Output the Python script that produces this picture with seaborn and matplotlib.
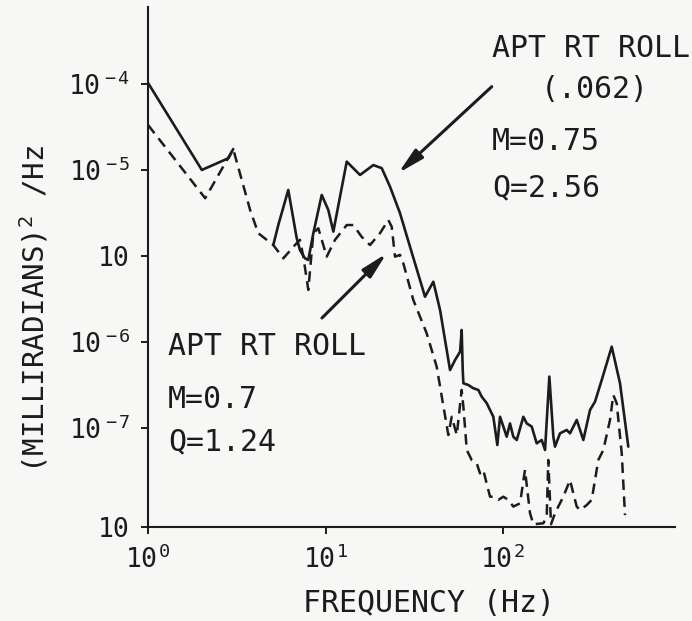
"""
Roll PSD plot: APT RT ROLL, two flight conditions (log-log)
"""

import numpy as np
import pandas as pd
import matplotlib
matplotlib.use("Agg")
import matplotlib.pyplot as plt
import seaborn as sns

# ==================== data ====================

# solid curve, M=0.75 Q=2.56 -- low-frequency piece
solid_low_freq = [1.0, 2.01, 2.84, 3.02]
solid_low_psd = [1.03e-4, 1.0e-5, 1.37e-5, 1.75e-5]

# solid curve, rest
solid_freq = [5.08, 5.42, 6.17, 6.88, 7.18, 7.66, 8.00, 8.54, 9.52, 10.37,
              11.07, 13.17, 15.65, 18.59, 20.74, 23.09, 26.29, 29.93, 34.07, 36.36,
              40.5, 44.2, 50.3, 53.7, 57.3, 58.5, 59.3, 59.8, 63.8, 68.0,
              72.6, 75.9, 81.0, 84.5, 88.2, 92.9, 96.2, 100.4, 104.9, 109.5,
              114.3, 119.5, 130.2, 136.0, 145.1, 154.8, 165.2, 172.5, 182.4, 192.1,
              196.3, 209.5, 228.5, 238.5, 260.2, 283.5, 309.2, 329.8, 359.8, 409.8,
              456.2, 508.0]
solid_psd = [1.34e-6, 2.29e-6, 5.85e-6, 1.62e-6, 1.17e-6, 9.4e-7, 8.98e-7, 1.84e-6, 5.12e-6, 3.43e-6,
             1.92e-6, 1.25e-5, 8.75e-6, 1.14e-5, 1.05e-5, 6.40e-6, 3.14e-6, 1.28e-6, 5.26e-7, 3.36e-7,
             5.02e-7, 2.35e-7, 4.72e-8, 6.18e-8, 7.71e-8, 1.38e-7, 4.72e-8, 3.31e-8, 3.16e-8, 2.90e-8,
             2.77e-8, 2.31e-8, 1.94e-8, 1.62e-8, 1.35e-8, 6.34e-9, 1.35e-8, 1.04e-8, 7.92e-9, 1.13e-8,
             7.92e-9, 7.25e-9, 1.35e-8, 1.13e-8, 1.04e-8, 6.63e-9, 7.25e-9, 5.55e-9, 3.96e-8, 7.92e-9,
             6.07e-9, 8.67e-9, 9.48e-9, 8.67e-9, 1.24e-8, 7.25e-9, 1.62e-8, 2.02e-8, 3.61e-8, 8.81e-8,
             3.31e-8, 6.07e-9]

# dashed curve, M=0.7 Q=1.24
dashed_freq = [1.0, 2.10, 3.02, 3.76, 4.18, 5.08, 5.79, 6.73, 7.18, 7.50,
               8.00, 8.54, 9.11, 10.16, 11.31, 13.17, 14.34, 15.99, 17.81, 20.28,
               22.58, 23.60, 24.64, 26.29, 27.44, 31.24, 37.16, 42.3, 44.2, 49.2,
               51.4, 54.9, 58.5, 59.8, 62.5, 66.6, 71.1, 74.2, 77.4, 84.5,
               88.2, 94.1, 100.4, 107.1, 114.3, 124.7, 133.0, 142.0, 148.2, 168.7,
               176.3, 179.9, 186.4, 196.3, 204.9, 218.7, 238.5, 248.9, 260.2, 271.5,
               296.1, 316.0, 344.4, 367.4, 400.7, 418.2, 437.1, 466.5, 486.8]
dashed_psd = [3.34e-5, 4.69e-6, 1.75e-5, 3.43e-6, 1.84e-6, 1.34e-6, 9.4e-7, 1.34e-6, 1.54e-6, 9.82e-7,
              4.03e-7, 1.84e-6, 2.10e-6, 9.82e-7, 1.54e-6, 2.29e-6, 2.29e-6, 1.67e-6, 1.34e-6, 1.84e-6,
              2.62e-6, 2.19e-6, 9.82e-7, 1.03e-6, 8.22e-7, 3.08e-7, 1.26e-7, 5.16e-8, 3.02e-8, 8.29e-9,
              1.35e-8, 8.29e-9, 2.77e-8, 1.77e-8, 5.55e-9, 4.25e-9, 3.89e-9, 2.97e-9, 3.25e-9, 1.59e-9,
              1.59e-9, 1.46e-9, 1.59e-9, 1.46e-9, 1.22e-9, 1.33e-9, 3.25e-9, 1.02e-9, 7.6e-10, 7.8e-10,
              9.3e-10, 4.25e-9, 7.6e-10, 1.02e-9, 1.22e-9, 1.59e-9, 2.48e-9, 1.74e-9, 1.22e-9, 1.11e-9,
              1.27e-9, 1.46e-9, 4.25e-9, 5.55e-9, 1.24e-8, 2.42e-8, 1.94e-8, 5.08e-9, 9.7e-10]

# axis ticks / labels as printed on the scan
x_ticks = [1, 10, 100]
x_tick_labels = [r"$10^{\,0}$", r"$10^{\,1}$", r"$10^{\,2}$"]
y_ticks = [1e-4, 1e-5, 1e-6, 1e-7, 1e-8, 7.06e-10]
y_tick_labels = [r"$10^{\,-4}$", r"$10^{\,-5}$", "10", r"$10^{\,-6}$", r"$10^{\,-7}$", "10"]


# ==================== plot ====================

def plot_roll_psd(save_path: str = "out.png") -> None:
    sns.set_theme(style="ticks")
    plt.rcParams["font.family"] = ["DejaVu Sans Mono", "DejaVu Sans"]
    plt.rcParams["mathtext.fontset"] = "custom"
    plt.rcParams["mathtext.rm"] = "DejaVu Sans Mono"
    plt.rcParams["mathtext.it"] = "DejaVu Sans Mono"
    plt.rcParams["mathtext.default"] = "rm"

    ink = "#1c1c1c"
    fig = plt.figure(figsize=(6.92, 6.21), dpi=100, facecolor="#f7f7f5")
    ax = fig.add_axes([148 / 692, 1 - 527 / 621, 527 / 692, 520 / 621])
    ax.set_facecolor("none")

    solid_low = pd.DataFrame({"freq": solid_low_freq, "psd": solid_low_psd})
    solid = pd.DataFrame({"freq": solid_freq, "psd": solid_psd})
    dashed = pd.DataFrame({"freq": dashed_freq, "psd": dashed_psd})

    sns.lineplot(data=dashed, x="freq", y="psd", ax=ax, sort=False, estimator=None,
                 color=ink, lw=1.8, dashes=False, linestyle=(0, (4.2, 2.6)))
    sns.lineplot(data=solid_low, x="freq", y="psd", ax=ax, sort=False, estimator=None,
                 color=ink, lw=1.9)
    sns.lineplot(data=solid, x="freq", y="psd", ax=ax, sort=False, estimator=None,
                 color=ink, lw=1.9)

    ax.set_xscale("log")
    ax.set_yscale("log")
    ax.set_xlim(1, 931)
    ax.set_ylim(7.06e-10, 7.85e-4)
    ax.set_xticks(x_ticks)
    ax.set_xticklabels(x_tick_labels)
    ax.set_yticks(y_ticks)
    ax.set_yticklabels(y_tick_labels)
    ax.minorticks_off()
    ax.tick_params(axis="both", direction="out", length=5, width=1.4,
                   color=ink, labelcolor=ink, labelsize=19, pad=8)

    sns.despine(ax=ax)
    for side in ["left", "bottom"]:
        ax.spines[side].set_linewidth(1.5)
        ax.spines[side].set_color(ink)

    ax.set_xlabel("FREQUENCY (Hz)", fontsize=21.5, color=ink)
    ax.xaxis.set_label_coords(0.533, -0.12)
    ax.set_ylabel(r"(MILLIRADIANS)$^{2}$ /Hz", fontsize=21, color=ink)
    ax.yaxis.set_label_coords(-0.185, 0.42)

    # annotations
    txt = dict(transform=ax.transAxes, fontsize=21.5, color=ink, va="baseline")
    ax.text(0.653, 0.904, "APT RT ROLL", ha="left", **txt)
    ax.text(0.848, 0.825, "(.062)", ha="center", **txt)
    ax.text(0.653, 0.725, "M=0.75", ha="left", **txt)
    ax.text(0.653, 0.635, "Q=2.56", ha="left", **txt)

    ax.text(0.038, 0.331, "APT RT ROLL", ha="left", **txt)
    ax.text(0.038, 0.229, "M=0.7", ha="left", **txt)
    ax.text(0.038, 0.148, "Q=1.24", ha="left", **txt)

    arrow = dict(arrowstyle="-|>,head_length=1.3,head_width=0.3", lw=2.2,
                 color=ink, shrinkA=0, shrinkB=0)
    ax.annotate("", xy=(25.7, 9.2e-6), xytext=(86.4, 9.3e-5),
                arrowprops=arrow, annotation_clip=False)
    ax.annotate("", xy=(22.1, 1.07e-6), xytext=(9.55, 1.9e-7),
                arrowprops=arrow, annotation_clip=False)

    fig.savefig(save_path, dpi=100, facecolor=fig.get_facecolor())
    plt.close(fig)


if __name__ == "__main__":
    plot_roll_psd()
